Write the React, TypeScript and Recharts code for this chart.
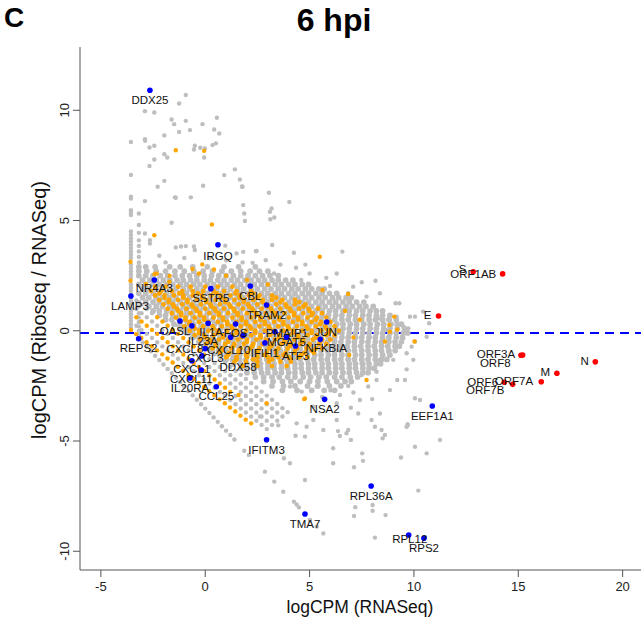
import React from "react";
import { ScatterChart, Scatter, XAxis, YAxis, ReferenceLine } from "recharts";

const X_TICKS = [-5, 0, 5, 10, 15, 20];
const Y_TICKS = [-10, -5, 0, 5, 10];
const THRESHOLD_Y = -0.1;

// dense background cloud, each row: [y, x1, x2, ...]
const GRAY_ROWS: number[][] = [
  [2.9, -3.18, -2.85, -2.4, -1.7, -1.2, -0.6, 0.1, 0.9, 1.6, 2.4],
  [2.7, -3.18, -2.8, -2.35, -1.9, -1.45, -1.0, -0.55, -0.1, 0.35, 0.8, 1.25, 1.7, 2.15, 2.6, 3.0],
  [2.5, -3.18, -2.85, -2.5, -2.15, -1.8, -1.45, -1.1, -0.75, -0.4, -0.05, 0.3, 0.65, 1.0, 1.35, 1.7, 2.05, 2.4, 2.75, 3.1, 3.5],
  [2.3, -3.0, -2.65, -2.35, -2.0, -1.7, -1.35, -1.05, -0.7, -0.4, -0.05, 0.25, 0.6, 0.9, 1.25, 1.55, 1.9, 2.2, 2.55, 2.85, 3.2, 3.5, 3.85, 4.2],
  [2.1, -3.18, -2.85, -2.5, -2.2, -1.85, -1.55, -1.2, -0.9, -0.55, -0.25, 0.1, 0.4, 0.75, 1.05, 1.4, 1.7, 2.05, 2.35, 2.7, 3.0, 3.35, 3.65, 4.0, 4.3, 4.65, 4.95],
  [1.9, -3.0, -2.7, -2.35, -2.05, -1.7, -1.4, -1.05, -0.75, -0.4, -0.1, 0.25, 0.55, 0.9, 1.2, 1.55, 1.85, 2.2, 2.5, 2.85, 3.15, 3.5, 3.8, 4.15, 4.45, 4.8, 5.1, 5.45, 5.7],
  [1.7, -3.18, -2.85, -2.5, -2.2, -1.85, -1.55, -1.2, -0.9, -0.55, -0.25, 0.1, 0.4, 0.75, 1.05, 1.4, 1.7, 2.05, 2.35, 2.7, 3.0, 3.35, 3.65, 4.0, 4.3, 4.65, 4.95, 5.3, 5.6, 5.95, 6.3],
  [1.5, -3.0, -2.7, -2.35, -2.05, -1.7, -1.4, -1.05, -0.75, -0.4, -0.1, 0.25, 0.55, 0.9, 1.2, 1.55, 1.85, 2.2, 2.5, 2.85, 3.15, 3.5, 3.8, 4.15, 4.45, 4.8, 5.1, 5.45, 5.75, 6.1, 6.4, 6.75, 7.0],
  [1.3, -2.85, -2.5, -2.2, -1.85, -1.55, -1.2, -0.9, -0.55, -0.25, 0.1, 0.4, 0.75, 1.05, 1.4, 1.7, 2.05, 2.35, 2.7, 3.0, 3.35, 3.65, 4.0, 4.3, 4.65, 4.95, 5.3, 5.6, 5.95, 6.25, 6.6, 6.9, 7.25, 7.6],
  [1.1, -2.7, -2.35, -2.05, -1.7, -1.4, -1.05, -0.75, -0.4, -0.1, 0.25, 0.55, 0.9, 1.2, 1.55, 1.85, 2.2, 2.5, 2.85, 3.15, 3.5, 3.8, 4.15, 4.45, 4.8, 5.1, 5.45, 5.75, 6.1, 6.4, 6.75, 7.05, 7.4, 7.7, 8.05],
  [0.9, -2.5, -2.2, -1.85, -1.55, -1.2, -0.9, -0.55, -0.25, 0.1, 0.4, 0.75, 1.05, 1.4, 1.7, 2.05, 2.35, 2.7, 3.0, 3.35, 3.65, 4.0, 4.3, 4.65, 4.95, 5.3, 5.6, 5.95, 6.25, 6.6, 6.9, 7.25, 7.55, 7.9, 8.2, 8.5],
  [0.7, -2.2, -1.9, -1.55, -1.25, -0.9, -0.6, -0.25, 0.05, 0.4, 0.7, 1.05, 1.35, 1.7, 2.0, 2.35, 2.65, 3.0, 3.3, 3.65, 3.95, 4.3, 4.6, 4.95, 5.25, 5.6, 5.9, 6.25, 6.55, 6.9, 7.2, 7.55, 7.85, 8.2, 8.5, 8.85],
  [0.5, -1.9, -1.6, -1.25, -0.95, -0.6, -0.3, 0.05, 0.35, 0.7, 1.0, 1.35, 1.65, 2.0, 2.3, 2.65, 2.95, 3.3, 3.6, 3.95, 4.25, 4.6, 4.9, 5.25, 5.55, 5.9, 6.2, 6.55, 6.85, 7.2, 7.5, 7.85, 8.15, 8.5, 8.8, 9.15],
  [0.3, -1.5, -1.2, -0.85, -0.55, -0.2, 0.1, 0.45, 0.75, 1.1, 1.4, 1.75, 2.05, 2.4, 2.7, 3.05, 3.35, 3.7, 4.0, 4.35, 4.65, 5.0, 5.3, 5.65, 5.95, 6.3, 6.6, 6.95, 7.25, 7.6, 7.9, 8.25, 8.55, 8.9, 9.2, 9.4],
  [0.1, -1.2, -0.9, -0.55, -0.25, 0.1, 0.4, 0.75, 1.05, 1.4, 1.7, 2.05, 2.35, 2.7, 3.0, 3.35, 3.65, 4.0, 4.3, 4.65, 4.95, 5.3, 5.6, 5.95, 6.25, 6.6, 6.9, 7.25, 7.55, 7.9, 8.2, 8.55, 8.85, 9.2, 9.55],
  [-0.1, -0.9, -0.6, -0.25, 0.05, 0.4, 0.7, 1.05, 1.35, 1.7, 2.0, 2.35, 2.65, 3.0, 3.3, 3.65, 3.95, 4.3, 4.6, 4.95, 5.25, 5.6, 5.9, 6.25, 6.55, 6.9, 7.2, 7.55, 7.85, 8.2, 8.5, 8.85, 9.15, 9.5, 9.7],
  [-0.3, -0.6, -0.3, 0.05, 0.35, 0.7, 1.0, 1.35, 1.65, 2.0, 2.3, 2.65, 2.95, 3.3, 3.6, 3.95, 4.25, 4.6, 4.9, 5.25, 5.55, 5.9, 6.2, 6.55, 6.85, 7.2, 7.5, 7.85, 8.15, 8.5, 8.8, 9.15, 9.45],
  [-0.5, -0.3, 0.0, 0.35, 0.65, 1.0, 1.3, 1.65, 1.95, 2.3, 2.6, 2.95, 3.25, 3.6, 3.9, 4.25, 4.55, 4.9, 5.2, 5.55, 5.85, 6.2, 6.5, 6.85, 7.15, 7.5, 7.8, 8.15, 8.45, 8.8, 9.1, 9.4],
  [-0.7, 0.0, 0.3, 0.65, 0.95, 1.3, 1.6, 1.95, 2.25, 2.6, 2.9, 3.25, 3.55, 3.9, 4.2, 4.55, 4.85, 5.2, 5.5, 5.85, 6.15, 6.5, 6.8, 7.15, 7.45, 7.8, 8.1, 8.45, 8.75, 9.1, 9.3],
  [-0.9, 0.35, 0.65, 1.0, 1.3, 1.65, 1.95, 2.3, 2.6, 2.95, 3.25, 3.6, 3.9, 4.25, 4.55, 4.9, 5.2, 5.55, 5.85, 6.2, 6.5, 6.85, 7.15, 7.5, 7.8, 8.15, 8.45, 8.8, 9.1],
  [-1.1, 0.7, 1.0, 1.35, 1.65, 2.0, 2.3, 2.65, 2.95, 3.3, 3.6, 3.95, 4.25, 4.6, 4.9, 5.25, 5.55, 5.9, 6.2, 6.55, 6.85, 7.2, 7.5, 7.85, 8.15, 8.5, 8.85],
  [-1.3, 1.0, 1.3, 1.65, 1.95, 2.3, 2.6, 2.95, 3.25, 3.6, 3.9, 4.25, 4.55, 4.9, 5.2, 5.55, 5.85, 6.2, 6.5, 6.85, 7.15, 7.5, 7.8, 8.15, 8.45, 8.7],
  [-1.5, 1.35, 1.7, 2.0, 2.35, 2.65, 3.0, 3.3, 3.65, 3.95, 4.3, 4.6, 4.95, 5.25, 5.6, 5.9, 6.25, 6.55, 6.9, 7.2, 7.55, 7.85, 8.2, 8.4],
  [-1.7, 1.7, 2.0, 2.35, 2.65, 3.0, 3.3, 3.65, 3.95, 4.3, 4.6, 4.95, 5.25, 5.6, 5.9, 6.25, 6.55, 6.9, 7.2, 7.55, 7.85, 8.1],
  [-1.9, 2.0, 2.35, 2.7, 3.0, 3.35, 3.65, 4.0, 4.3, 4.65, 4.95, 5.3, 5.6, 5.95, 6.25, 6.6, 6.9, 7.25, 7.55, 7.8],
  [-2.1, 2.4, 2.8, 3.2, 3.55, 3.95, 4.3, 4.7, 5.05, 5.45, 5.8, 6.2, 6.55, 6.95, 7.3],
  [-2.3, 2.8, 3.25, 3.7, 4.1, 4.55, 5.0, 5.4, 5.85, 6.3, 6.7, 7.0],
  [-2.5, 3.2, 3.75, 4.3, 4.9, 5.4, 5.95, 6.5],
  [-2.7, 3.7, 4.4, 5.1, 5.7, 6.2],
];

const ORANGE_ROWS: number[][] = [
  [2.0, -2.4, -1.9, -1.3, -0.7, 0.0, 0.6, 1.3],
  [1.8, -2.6, -2.1, -1.6, -1.1, -0.6, -0.1, 0.4, 0.9, 1.5, 2.2],
  [1.6, -2.4, -1.95, -1.5, -1.05, -0.6, -0.15, 0.3, 0.75, 1.2, 1.65, 2.1, 2.6, 3.2],
  [1.4, -2.2, -1.75, -1.3, -0.85, -0.4, 0.05, 0.5, 0.95, 1.4, 1.85, 2.3, 2.75, 3.2, 3.7, 4.3],
  [1.2, -2.0, -1.55, -1.1, -0.65, -0.2, 0.25, 0.7, 1.15, 1.6, 2.05, 2.5, 2.95, 3.4, 3.85, 4.3, 4.8],
  [1.0, -1.8, -1.35, -0.9, -0.45, 0.0, 0.45, 0.9, 1.35, 1.8, 2.25, 2.7, 3.15, 3.6, 4.05, 4.5, 4.95, 5.4],
  [0.8, -1.6, -1.15, -0.7, -0.25, 0.2, 0.65, 1.1, 1.55, 2.0, 2.45, 2.9, 3.35, 3.8, 4.25, 4.7, 5.15, 5.6],
  [0.6, -1.4, -0.95, -0.5, -0.05, 0.4, 0.85, 1.3, 1.75, 2.2, 2.65, 3.1, 3.55, 4.0, 4.45, 4.9, 5.35, 5.8],
  [0.4, -1.2, -0.75, -0.3, 0.15, 0.6, 1.05, 1.5, 1.95, 2.4, 2.85, 3.3, 3.75, 4.2, 4.65, 5.1, 5.55, 6.0],
  [0.2, -1.0, -0.55, -0.1, 0.35, 0.8, 1.25, 1.7, 2.15, 2.6, 3.05, 3.5, 3.95, 4.4, 4.85, 5.3, 5.75, 6.2],
  [0.0, -0.75, -0.3, 0.15, 0.6, 1.05, 1.5, 1.95, 2.4, 2.85, 3.3, 3.75, 4.2, 4.65, 5.1, 5.55, 6.0, 6.4],
  [-0.2, -0.5, -0.05, 0.4, 0.85, 1.3, 1.75, 2.2, 2.65, 3.1, 3.55, 4.0, 4.45, 4.9, 5.35, 5.8, 6.2],
  [-0.4, -0.25, 0.2, 0.65, 1.1, 1.55, 2.0, 2.45, 2.9, 3.35, 3.8, 4.25, 4.7, 5.15, 5.6, 6.0],
  [-0.6, 0.05, 0.5, 0.95, 1.4, 1.85, 2.3, 2.75, 3.2, 3.65, 4.1, 4.55, 5.0, 5.45, 5.8],
  [-0.8, 0.35, 0.8, 1.25, 1.7, 2.15, 2.6, 3.05, 3.5, 3.95, 4.4, 4.85, 5.3, 5.6],
  [-1.0, 0.7, 1.15, 1.6, 2.05, 2.5, 2.95, 3.4, 3.85, 4.3, 4.75, 5.2],
  [-1.2, 1.0, 1.5, 2.0, 2.5, 3.0, 3.5, 4.0, 4.5, 4.9],
  [-1.4, 1.4, 1.95, 2.5, 3.05, 3.6, 4.1],
  [-1.6, 1.8, 2.5, 3.2, 3.9],
];

// second, interleaved set of orange rows in the densest part of the cloud
const ORANGE_ROWS_B: number[][] = [
  [1.7, -2.2, -1.25, -0.35, 0.55, 1.45, 2.3],
  [1.5, -1.95, -1.05, -0.15, 0.75, 1.65, 2.5, 3.4],
  [1.3, -1.75, -0.85, 0.05, 0.95, 1.85, 2.75, 3.6, 4.5],
  [1.1, -1.5, -0.6, 0.3, 1.2, 2.1, 3.0, 3.9, 4.7],
  [0.9, -1.3, -0.4, 0.5, 1.4, 2.3, 3.2, 4.1, 5.0],
  [0.7, -1.15, -0.25, 0.65, 1.55, 2.45, 3.35, 4.25, 5.1],
  [0.5, -0.95, -0.05, 0.85, 1.75, 2.65, 3.55, 4.45, 5.3],
  [0.3, -0.75, 0.15, 1.05, 1.95, 2.85, 3.75, 4.65, 5.5],
  [0.1, -0.5, 0.4, 1.3, 2.2, 3.1, 4.0, 4.9, 5.8],
  [-0.1, -0.3, 0.6, 1.5, 2.4, 3.3, 4.2, 5.1, 5.9],
  [-0.3, 0.0, 0.85, 1.75, 2.65, 3.55, 4.45, 5.3],
  [-0.5, 0.25, 1.1, 2.0, 2.9, 3.8, 4.7, 5.5],
  [-0.7, 0.5, 1.35, 2.25, 3.15, 4.05, 4.95],
  [-0.9, 0.8, 1.6, 2.5, 3.4, 4.3, 5.1],
  [-1.1, 1.1, 1.95, 2.85, 3.75, 4.6],
  [-1.3, 1.5, 2.3, 3.2, 4.1],
];

// columns of low-count genes at the left edge
const LEFT_COL_X = -3.56;
const LEFT_COL_Y = [8.56, 7.07, 6.08, 6.0, 5.47, 5.35, 5.25, 4.5, 4.35, 4.2, 4.05, 3.9, 3.75, 3.6, 3.45, 3.3, 3.0, 2.85, 2.7, 2.55, 2.4, 2.1, 1.95, 1.8, 1.65, 1.5, 1.35, 1.2, 1.05, 0.9, 0.75, 0.6, 0.45, 0.3, 0.15];
const SECOND_COL_X = -3.18;
const SECOND_COL_Y = [5.32, 4.8, 4.44, 4.1, 3.85, 3.6, 3.35, 3.1, 1.3, 1.1, 0.8, 0.6, 0.4, 0.2, 0.0, -0.2];

// scattered gray genes
const GRAY_SCATTER: number[][] = [
  [-0.93, 10.69], [-1.25, 10.31], [-2.89, 9.96], [-2.44, 9.9], [-1.61, 9.58], [-1.49, 9.37], [-0.93, 9.52], [-0.13, 9.37], [0.56, 9.66], [-1.25, 9.02],
  [-0.73, 9.1], [0.43, 9.13], [0.67, 8.95], [-1.96, 8.86], [-2.89, 8.69], [-2.88, 8.62], [-2.67, 8.31], [-2.44, 8.39], [-1.96, 8.01], [-1.82, 7.86],
  [-2.44, 7.77], [-2.67, 7.47], [-0.5, 8.39], [-0.54, 8.22], [-0.24, 8.3], [-0.05, 7.86], [-0.02, 8.27], [0.35, 8.42], [0.51, 8.5], [1.42, 7.32],
  [0.91, 7.06], [1.66, 6.86], [1.79, 6.53], [-2.28, 6.53], [-1.96, 6.8], [-0.1, 6.58], [-2.89, 5.88], [-1.41, 6.03], [-0.69, 6.05], [1.82, 5.7],
  [1.87, 5.32], [3.05, 6.26], [3.18, 5.55], [3.12, 5.06], [3.31, 5.14], [4.03, 5.84], [-2.89, 4.41], [-1.61, 4.9], [-2.65, 4.11], [-2.65, 3.96],
  [-1.41, 3.78], [-0.93, 3.84], [-0.5, 3.66], [1.82, 3.58], [2.43, 3.61], [3.21, 3.89], [4.25, 3.54], [4.35, 2.86], [1.79, 3.1], [2.27, 3.08],
  [1.76, 6.54], [-1.45, 6.05], [3.1, 5.4], [1.9, 4.98], [0.96, 3.86], [-0.54, 3.82], [-1.16, 3.82], [1.5, 3.51], [2.46, 3.62], [6.57, 3.59],
  [8.16, 2.27], [7.09, 2.0], [8.37, 1.7], [9.3, 1.25], [9.81, 0.64], [9.49, 0.19], [-2.2, 3.4], [-1.9, 3.1], [-1.0, 3.3], [0.2, 3.3],
  [1.0, 3.2], [2.9, 3.2], [3.6, 3.0], [5.0, 2.6], [5.8, 2.4], [6.3, 2.6], [7.5, 2.2], [4.8, 3.0], [3.3, 2.6], [4.6, 2.3],
  [9.12, 1.25], [10.05, -0.49], [9.97, -1.32], [9.65, -1.75], [9.2, -2.23], [9.57, -2.23], [8.85, -2.69], [8.37, -1.32], [8.21, -2.23], [7.81, -2.53],
  [7.41, -3.14], [6.98, -3.49], [6.3, -4.05], [6.77, -4.65], [7.33, -3.75], [7.97, -4.05], [8.37, -3.75], [9.65, -4.35], [10.05, -3.06], [10.29, -3.14],
  [10.61, -5.56], [11.25, -4.95], [10.05, -5.26], [9.7, -4.24], [5.66, -4.5], [5.18, -4.05], [4.78, -4.8], [4.06, -6.01], [4.38, -4.2], [5.18, -3.44],
  [6.3, -3.29], [6.85, -2.5], [6.46, -2.91], [5.34, -2.53], [4.62, -2.76], [4.06, -2.53], [7.49, -2.01], [8.21, -1.86], [9.01, -1.32], [9.65, -1.02],
  [9.89, -0.72], [9.73, 0.11], [9.17, 0.64], [8.21, 0.87], [8.85, 0.49], [9.49, -0.34], [8.77, -0.95], [7.49, -1.48], [5.66, 1.77], [5.98, 2.03],
  [6.85, 1.7], [7.73, 1.55], [8.29, 0.56], [8.69, 0.03], [10.44, 0.87], [10.73, 0.34], [10.61, -0.27], [10.05, 0.64], [3.5, -4.29], [4.86, -4.35],
  [4.33, -4.76], [3.77, -5.78], [4.78, -6.77], [6.13, -5.33], [6.45, -4.77], [6.36, -4.55], [6.85, -4.5], [6.98, -4.95], [6.13, -6.01], [7.13, -6.19],
  [7.52, -5.56], [7.56, -5.9], [8.45, -4.5], [8.5, -4.88], [8.61, -4.73], [8.13, -4.35], [9.7, -4.29], [9.38, -5.75], [10.21, -7.25], [7.19, -8.0],
  [7.13, -8.4], [8.02, -7.9], [8.02, -8.16], [8.64, -8.36], [8.13, -9.38], [2.62, -3.89], [5.6, -3.0], [6.0, -2.7], [7.1, -2.8], [8.0, -3.1],
];

// diagonal stripes of low Ribo-seq counts
const GRAY_STRIPES: number[][] = [
  [-3.0, -0.53], [-2.8, -0.73], [-2.6, -0.93], [-2.4, -1.13], [-2.2, -1.33], [-2.0, -1.53], [-1.8, -1.73], [-1.6, -1.93], [-1.4, -2.13], [-1.2, -2.33],
  [-1.0, -2.53], [-0.8, -2.73], [-0.6, -2.93], [-0.4, -3.13], [-0.2, -3.33], [0.0, -3.53], [0.2, -3.73], [0.4, -3.93], [0.6, -4.13], [0.8, -4.33],
  [1.0, -4.53], [1.2, -4.73], [1.4, -4.93], [1.87, -5.44], [2.09, -5.63], [2.86, -6.39], [3.31, -6.84], [3.74, -7.3], [4.25, -7.75], [4.38, -7.88],
  [4.49, -8.01], [5.02, -8.58], [5.34, -8.88], [5.66, -9.19],
  [-3.3, 0.23], [-3.05, 0.04], [-2.8, -0.14], [-2.55, -0.33], [-2.3, -0.52], [-2.05, -0.71], [-1.8, -0.89], [-1.55, -1.08], [-1.3, -1.27], [-1.05, -1.46],
  [-0.8, -1.64], [-0.55, -1.83], [-0.3, -2.02], [-0.05, -2.21], [0.2, -2.39], [0.45, -2.58], [0.7, -2.77], [0.95, -2.96], [1.2, -3.14], [1.45, -3.33],
  [1.7, -3.52], [1.95, -3.71], [2.2, -3.89], [2.45, -4.08], [2.7, -4.27], [2.95, -4.46],
  [1.45, -2.96], [1.7, -3.14], [1.95, -3.33], [2.2, -3.52], [2.45, -3.71], [2.7, -3.89], [2.95, -4.08], [3.2, -4.27],
  [-3.3, 0.99], [-3.05, 0.8], [-2.8, 0.61], [-2.55, 0.42], [-2.3, 0.23], [-2.05, 0.04], [-1.8, -0.14], [-1.55, -0.33], [-1.3, -0.52], [-1.05, -0.71],
  [-0.8, -0.89], [-0.55, -1.08], [-0.3, -1.27], [-0.05, -1.46], [0.2, -1.64], [0.45, -1.83], [0.7, -2.02], [0.95, -2.21], [1.2, -2.39], [1.45, -2.58],
  [1.7, -2.77], [1.95, -2.96], [2.2, -3.14], [2.45, -3.33], [2.7, -3.52], [2.95, -3.71], [3.2, -3.89], [3.45, -4.08],
  [-3.3, 1.37], [-3.05, 1.18], [-2.8, 0.99], [-2.55, 0.8], [0.2, -1.27], [0.45, -1.46], [0.7, -1.64], [0.95, -1.83], [1.2, -2.02], [1.45, -2.21],
  [1.7, -2.39], [1.95, -2.58], [2.2, -2.77], [2.45, -2.96], [2.7, -3.14], [2.95, -3.33], [3.2, -3.52], [3.45, -3.71], [3.7, -3.89],
  [-1.3, 0.24], [-1.05, 0.06], [-0.8, -0.14], [-0.55, -0.33], [-0.3, -0.52], [-0.05, -0.71], [0.2, -0.88], [0.45, -1.07], [0.7, -1.26], [0.95, -1.44],
  [1.2, -1.63], [1.45, -1.82], [1.7, -2.0], [1.95, -2.19], [2.2, -2.38], [2.45, -2.57], [2.7, -2.76], [2.95, -2.94], [3.2, -3.13], [3.45, -3.32],
  [3.7, -3.51], [3.95, -3.69],
];

const ORANGE_STRIPES: number[][] = [
  [-3.56, 0.04], [-3.31, -0.15], [-3.06, -0.33], [-2.81, -0.52], [-2.56, -0.7], [-2.31, -0.89], [-2.06, -1.07], [-1.81, -1.26], [-1.56, -1.44], [-1.31, -1.63],
  [-1.06, -1.81], [-0.81, -2.0], [-0.56, -2.18], [-0.31, -2.37], [-0.06, -2.55], [0.19, -2.74], [0.44, -2.92], [0.69, -3.11], [0.94, -3.29], [1.19, -3.48],
  [1.44, -3.66], [1.69, -3.85], [1.94, -4.03], [2.2, -4.2],
  [-3.3, 0.61], [-3.05, 0.42], [-2.8, 0.23], [-2.55, 0.04], [-2.3, -0.14], [-2.05, -0.33], [-1.8, -0.52], [-1.55, -0.71], [-1.3, -0.89], [-1.05, -1.08],
  [-0.8, -1.27], [-0.55, -1.46], [-0.3, -1.64], [-0.05, -1.83], [0.2, -2.02], [0.45, -2.21], [0.7, -2.39], [0.95, -2.58], [1.2, -2.77],
  [-2.3, 0.61], [-2.05, 0.42], [-1.8, 0.23], [-1.55, 0.04], [-1.3, -0.14], [-1.05, -0.33], [-0.8, -0.52], [-0.55, -0.71], [-0.3, -0.89], [-0.05, -1.08],
];

const ORANGE_SCATTER: number[][] = [
  [-1.41, 8.19], [-0.05, 8.16], [0.32, 4.82], [-2.44, 4.33], [5.49, 3.36], [-3.58, 3.13], [-3.58, 2.27], [-0.14, 3.01], [0.42, 2.78], [-0.61, 2.8],
  [-2.33, 2.6], [-1.71, 2.49], [-1.72, 2.22], [-2.43, 2.57], [-2.84, 2.12], [5.62, 1.85], [6.85, 1.67], [9.06, 0.64], [10.03, -0.49], [7.73, -2.23],
  [4.74, -3.1], [8.61, -0.49], [8.85, -0.04], [8.82, 0.26], [9.2, 0.06], [1.6, -2.91], [2.94, -3.29], [4.78, -3.07], [6.7, 0.9], [7.1, -0.3],
  [6.9, -1.1], [7.4, 0.5], [-0.3, 2.6], [1.0, 2.5], [2.0, 2.3], [3.0, 2.1],
];

const BLUE_GENES = ["DDX25", "IRGQ", "NR4A3", "LAMP3", "SSTR5", "CBL", "TRAM2", "OASL", "IL1A", "FOS", "IL23A", "CXCL8", "CXCL10", "CXCL3", "CXCL1", "CXCL11", "IL20RA", "CCL25", "DDX58", "IFIH1", "PMAIP1", "MGAT5", "ATF3", "JUN", "NFKBIA", "REPS2", "NSA2", "IFITM3", "EEF1A1", "RPL36A", "TMA7", "RPL12", "RPS2"];
const BLUE_X = [-2.65, 0.61, -2.44, -3.56, 0.27, 2.16, 2.94, -1.21, 0.14, 1.46, -0.64, -0.16, 1.22, 0.0, -0.64, -0.19, -0.73, 0.53, 1.81, 2.86, 3.34, 3.9, 4.33, 5.82, 5.51, -3.19, 5.72, 2.94, 10.88, 7.95, 4.78, 9.75, 10.48];
const BLUE_Y = [10.91, 3.9, 2.3, 1.58, 1.91, 2.03, 1.17, 0.44, 0.34, 0.31, 0.22, -1.14, -0.29, -0.81, -1.36, -1.78, -2.14, -2.54, -0.22, -0.55, -0.05, -0.29, -0.69, 0.4, -0.39, -0.36, -3.11, -4.94, -3.41, -7.04, -8.31, -9.26, -9.41];

const RED_GENES = ["S", "ORF1AB", "E", "ORF3A", "ORF8", "N", "M", "ORF7A", "ORF6", "ORF7B"];
const RED_X = [12.84, 14.25, 11.18, 15.13, 15.21, 18.69, 16.85, 16.1, 14.33, 14.73];
const RED_Y = [2.68, 2.58, 0.67, -1.11, -1.1, -1.41, -1.93, -2.31, -2.34, -2.43];

// label placement (pixel offset of the label centre from its point)
const LABEL_OFFSET: Record<string, [number, number]> = {
  DDX25: [0, 10], IRGQ: [0, 11], NR4A3: [0, 8], LAMP3: [-1, 10], SSTR5: [0, 9.5], CBL: [0, 10], TRAM2: [0, 10],
  OASL: [-5, 10], IL1A: [3, 8.5], FOS: [0, 9], IL23A: [11, 15], CXCL8: [-17, -7], CXCL10: [-2, 12.5], CXCL3: [0, 9],
  CXCL1: [0, 8.6], CXCL11: [-10, 9], IL20RA: [0, 10], CCL25: [0, 9.5], DDX58: [-5, 31], IFIH1: [0, 10], PMAIP1: [12, 1],
  MGAT5: [0, 5], ATF3: [0, 10], JUN: [-1, 10], NFKBIA: [6, 8.5], REPS2: [0, 9.5], NSA2: [0, 9.5], IFITM3: [0, 10.5],
  EEF1A1: [0, 10], RPL36A: [0, 10], TMA7: [0, 10], RPL12: [1, 4.5], RPS2: [0, 9.5],
  S: [-10.6, -2.4], ORF1AB: [-29.4, 0], E: [-11, -0.7], ORF3A: [-25, -1.3], ORF8: [-27.4, 8.3], N: [-10.6, -1],
  M: [-11.7, -1], ORF7A: [-27.3, -0.7], ORF6: [-21.6, -0.6], ORF7B: [-27.4, 5.7],
};

const fromRows = (rows: number[][]) =>
  rows.flatMap((r) => r.slice(1).map((x) => ({ x, y: r[0] })));
const fromPairs = (pairs: number[][]) => pairs.map(([x, y]) => ({ x, y }));

const grayCoreData = fromRows(GRAY_ROWS);
const grayData = [
  ...LEFT_COL_Y.map((y) => ({ x: LEFT_COL_X, y })),
  ...SECOND_COL_Y.map((y) => ({ x: SECOND_COL_X, y })),
  ...fromPairs(GRAY_SCATTER),
  ...fromPairs(GRAY_STRIPES),
];
const orangeCoreData = [...fromRows(ORANGE_ROWS), ...fromRows(ORANGE_ROWS_B)];
const orangeData = [...fromPairs(ORANGE_STRIPES), ...fromPairs(ORANGE_SCATTER)];
const blueData = BLUE_GENES.map((name, i) => ({ name, x: BLUE_X[i], y: BLUE_Y[i] }));
const redData = RED_GENES.map((name, i) => ({ name, x: RED_X[i], y: RED_Y[i] }));

const FONT = "'Liberation Sans', Arial, Helvetica, sans-serif";

const dot = (fill: string, r: number) => (p: any) =>
  p.cx == null ? <g /> : <circle cx={p.cx} cy={p.cy} r={r} fill={fill} />;

const labelShape = (p: any) => {
  if (p.cx == null) return <g />;
  const o = LABEL_OFFSET[p.payload.name] ?? [0, 10];
  return (
    <text x={p.cx + o[0]} y={p.cy + o[1]} textAnchor="middle" dominantBaseline="central" fontSize={11.5} fontFamily={FONT} fill="#111">
      {p.payload.name}
    </text>
  );
};

const YTick = (p: any) => {
  const cx = p.x - 6;
  return (
    <text x={cx} y={p.y} transform={`rotate(-90 ${cx} ${p.y})`} textAnchor="middle" dominantBaseline="central" fontSize={13} fontFamily={FONT} fill="#222">
      {p.payload.value}
    </text>
  );
};

export default function App() {
  return (
    <div style={{ position: "absolute", left: 0, top: 0, width: 641, height: 625, background: "#fff", fontFamily: FONT, overflow: "hidden" }}>
      <ScatterChart width={641} height={625} margin={{ top: 47, right: 0, bottom: 0, left: 0 }}>
        <XAxis
          type="number" dataKey="x" domain={[-6, 20.88]} ticks={X_TICKS} allowDataOverflow interval={0}
          height={55} tickSize={7} tickMargin={5}
          axisLine={{ stroke: "#555" }} tickLine={{ stroke: "#555" }}
          tick={{ fontSize: 13, fill: "#222", fontFamily: FONT }}
        />
        <XAxis xAxisId="top" orientation="top" type="number" domain={[-6, 20.88]} height={0} tick={false} tickLine={false} axisLine={{ stroke: "#999" }} />
        <YAxis
          type="number" dataKey="y" domain={[-10.85, 12.87]} ticks={Y_TICKS} allowDataOverflow interval={0}
          width={80} tickSize={7} tickMargin={2}
          axisLine={{ stroke: "#555" }} tickLine={{ stroke: "#555" }} tick={<YTick />}
        />
        <Scatter data={grayCoreData} isAnimationActive={false} shape={dot("#BEBEBE", 2.9)} />
        <Scatter data={grayData} isAnimationActive={false} shape={dot("#BEBEBE", 2.2)} />
        <Scatter data={orangeCoreData} isAnimationActive={false} shape={dot("#FFA500", 2.4)} />
        <Scatter data={orangeData} isAnimationActive={false} shape={dot("#FFA500", 2.2)} />
        <ReferenceLine y={THRESHOLD_Y} stroke="#0000FF" strokeWidth={2} strokeDasharray="9 6" />
        <Scatter data={blueData} isAnimationActive={false} shape={dot("#0000FF", 2.8)} />
        <Scatter data={redData} isAnimationActive={false} shape={dot("#FF0000", 2.8)} />
        <Scatter data={blueData} isAnimationActive={false} shape={labelShape} />
        <Scatter data={redData} isAnimationActive={false} shape={labelShape} />
      </ScatterChart>
      <div style={{ position: "absolute", left: 4, top: 3, fontSize: 28, fontWeight: "bold", lineHeight: "30px" }}>C</div>
      <div style={{ position: "absolute", left: 334, top: 20, transform: "translate(-50%, -50%)", fontSize: 32, fontWeight: "bold", whiteSpace: "nowrap" }}>6 hpi</div>
      <div style={{ position: "absolute", left: 39, top: 310, transform: "translate(-50%, -50%) rotate(-90deg)", fontSize: 20, whiteSpace: "nowrap", color: "#111" }}>
        logCPM (Riboseq / RNASeq)
      </div>
      <div style={{ position: "absolute", left: 360, top: 607, transform: "translate(-50%, -50%)", fontSize: 17.5, whiteSpace: "nowrap", color: "#111" }}>
        logCPM (RNASeq)
      </div>
    </div>
  );
}
